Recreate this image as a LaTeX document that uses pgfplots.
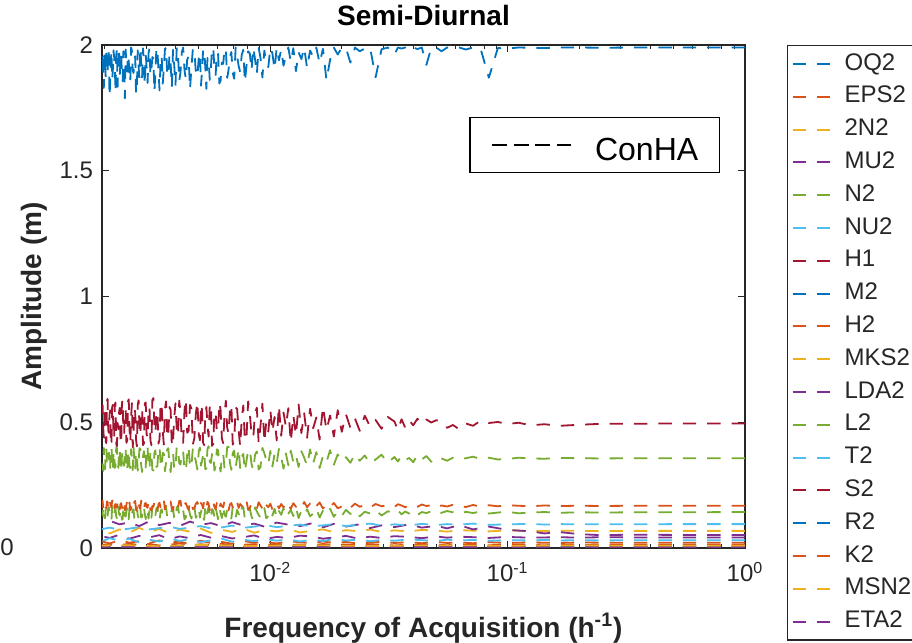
\documentclass[border=0pt]{standalone}
\usepackage{fontspec}
\setmainfont{Liberation Sans}
\usepackage{pgfplots}
\usepackage{pgfplotstable}
\pgfplotsset{compat=1.18}
\definecolor{C1}{rgb}{0,0.447,0.741}
\definecolor{C2}{rgb}{0.85,0.325,0.098}
\definecolor{C3}{rgb}{0.929,0.694,0.125}
\definecolor{C4}{rgb}{0.494,0.184,0.556}
\definecolor{C5}{rgb}{0.466,0.674,0.188}
\definecolor{C6}{rgb}{0.301,0.745,0.933}
\definecolor{C7}{rgb}{0.635,0.078,0.184}
\definecolor{mgray}{rgb}{0.15,0.15,0.15}
\pgfplotsset{mline/.style={line width=0.9pt, dash pattern=on 6.7pt off 5.5pt, line join=round, mark=none}}

\pgfplotstableread{
x M2 S2 N2 K2 L2
1 1.990 0.495 0.357 0.168 0.143
0.5 1.990 0.495 0.357 0.168 0.142
0.33333 1.990 0.494 0.357 0.168 0.142
0.25 1.989 0.494 0.356 0.167 0.141
0.2 1.990 0.490 0.357 0.168 0.142
0.16667 1.990 0.486 0.358 0.167 0.140
0.14286 1.988 0.492 0.355 0.169 0.143
0.125 1.989 0.488 0.356 0.166 0.141
0.11111 1.990 0.498 0.359 0.168 0.138
0.1 1.986 0.493 0.354 0.170 0.144
0.090909 1.988 0.501 0.352 0.166 0.141
0.083333 1.870 0.497 0.359 0.170 0.137
0.076923 1.985 0.506 0.354 0.165 0.145
0.071429 1.990 0.486 0.363 0.171 0.139
0.066667 1.982 0.495 0.357 0.163 0.144
0.0625 1.990 0.472 0.351 0.168 0.136
0.058824 1.987 0.489 0.359 0.172 0.142
0.055556 1.990 0.478 0.347 0.165 0.147
0.052632 1.975 0.503 0.356 0.169 0.140
0.05 1.990 0.508 0.361 0.162 0.135
0.047619 1.988 0.499 0.343 0.170 0.146
0.045455 1.921 0.511 0.366 0.167 0.139
0.043478 1.990 0.493 0.352 0.173 0.143
0.041667 1.984 0.514 0.370 0.164 0.131
0.04 1.990 0.488 0.341 0.168 0.148
0.038462 1.978 0.507 0.358 0.171 0.137
0.037037 1.990 0.478 0.349 0.162 0.145
0.035714 1.986 0.512 0.367 0.169 0.134
0.034483 1.990 0.469 0.344 0.174 0.149
0.033333 1.962 0.503 0.362 0.163 0.138
0.03125 1.990 0.521 0.338 0.170 0.146
0.029412 1.983 0.474 0.371 0.166 0.129
0.027778 1.872 0.509 0.352 0.175 0.151
0.026316 1.990 0.483 0.335 0.161 0.137
0.025 1.986 0.526 0.368 0.171 0.144
0.02381 1.975 0.466 0.347 0.164 0.126
0.022727 1.990 0.515 0.374 0.176 0.149
0.021739 1.930 0.478 0.339 0.160 0.135
0.020833 1.988 0.531 0.361 0.172 0.152
0.02 1.990 0.462 0.344 0.165 0.128
0.019231 1.962 0.548 0.372 0.158 0.147
0.018519 1.990 0.443 0.331 0.179 0.124
0.017857 1.941 0.527 0.389 0.163 0.156
0.017241 1.860 0.468 0.342 0.174 0.133
0.016667 1.985 0.562 0.366 0.157 0.149
0.016129 1.927 0.431 0.318 0.181 0.121
0.015625 1.990 0.519 0.381 0.166 0.158
0.015152 1.953 0.476 0.336 0.155 0.137
0.014706 1.978 0.554 0.392 0.177 0.126
0.014286 1.908 0.438 0.327 0.162 0.154
0.013889 1.990 0.536 0.359 0.183 0.131
0.013514 1.944 0.457 0.385 0.159 0.148
0.013158 1.971 0.571 0.322 0.172 0.119
0.012821 1.896 0.449 0.368 0.164 0.161
0.0125 1.987 0.528 0.341 0.178 0.127
0.012195 1.932 0.421 0.387 0.156 0.152
0.011905 1.990 0.556 0.329 0.169 0.136
0.011628 1.957 0.482 0.376 0.184 0.123
0.011364 1.918 0.539 0.315 0.161 0.158
0.011111 1.982 0.446 0.362 0.175 0.132
0.01087 1.939 0.567 0.394 0.158 0.147
0.010638 1.990 0.428 0.338 0.179 0.120
0.010417 1.903 0.521 0.373 0.165 0.156
0.010204 1.966 0.462 0.324 0.153 0.129
0.01 1.990 0.549 0.386 0.176 0.150
0.0098039 1.912 0.463 0.331 0.162 0.127
0.0096154 1.926 0.502 0.349 0.171 0.118
0.009434 1.978 0.421 0.377 0.184 0.159
0.0092593 1.871 0.574 0.398 0.157 0.153
0.0090909 1.949 0.487 0.322 0.169 0.122
0.0089286 1.988 0.418 0.312 0.182 0.131
0.0087719 1.884 0.558 0.384 0.155 0.146
0.0086207 1.944 0.537 0.371 0.163 0.162
0.0084746 1.990 0.439 0.309 0.178 0.113
0.0083333 1.899 0.452 0.334 0.176 0.124
0.0081967 1.966 0.531 0.392 0.160 0.157
0.0080645 1.975 0.583 0.389 0.152 0.149
0.0079365 1.918 0.442 0.347 0.187 0.128
0.0078125 1.852 0.426 0.305 0.185 0.115
0.0076923 1.981 0.567 0.374 0.158 0.163
0.0075758 1.960 0.511 0.362 0.168 0.158
0.0074627 1.893 0.404 0.318 0.175 0.121
0.0073529 1.917 0.468 0.396 0.159 0.136
0.0072464 1.957 0.552 0.358 0.183 0.152
0.0071429 1.990 0.559 0.321 0.180 0.121
0.0070423 1.866 0.427 0.387 0.154 0.141
0.0069444 1.889 0.411 0.378 0.161 0.164
0.0068493 1.972 0.571 0.311 0.179 0.117
0.0067568 1.953 0.545 0.339 0.173 0.127
0.0066667 1.901 0.456 0.403 0.150 0.155
0.0065789 1.869 0.479 0.401 0.154 0.151
0.0064935 1.988 0.586 0.329 0.181 0.124
0.0064103 1.982 0.528 0.317 0.186 0.133
0.0063291 1.925 0.417 0.376 0.162 0.166
0.00625 1.930 0.435 0.366 0.166 0.119
0.0061728 1.859 0.549 0.304 0.177 0.139
0.0060976 1.847 0.578 0.331 0.158 0.160
0.0060241 1.963 0.473 0.389 0.187 0.114
0.0059524 1.971 0.463 0.392 0.181 0.138
0.0058824 1.881 0.537 0.326 0.153 0.161
0.005814 1.905 0.541 0.308 0.163 0.125
0.0057471 1.990 0.414 0.381 0.185 0.148
0.0056818 1.990 0.406 0.374 0.175 0.155
0.005618 1.908 0.574 0.338 0.159 0.118
0.0055556 1.861 0.566 0.343 0.150 0.116
0.0054945 1.951 0.443 0.405 0.176 0.163
0.0054348 1.948 0.487 0.395 0.184 0.147
0.0053763 1.826 0.561 0.315 0.161 0.129
0.0053191 1.913 0.524 0.314 0.166 0.162
0.0052632 1.984 0.409 0.383 0.188 0.112
0.0052083 1.979 0.419 0.369 0.157 0.122
0.0051546 1.897 0.548 0.347 0.172 0.157
0.005102 1.838 0.573 0.327 0.179 0.143
0.0050505 1.969 0.428 0.399 0.153 0.121
0.005 1.957 0.449 0.388 0.162 0.157
0.0049261 1.874 0.581 0.312 0.183 0.132
0.0048544 1.892 0.532 0.346 0.176 0.120
0.0047847 1.977 0.437 0.367 0.158 0.166
0.004717 1.986 0.412 0.399 0.155 0.156
0.0046512 1.911 0.554 0.329 0.186 0.117
0.0045872 1.824 0.569 0.318 0.183 0.133
0.0045249 1.954 0.466 0.404 0.152 0.159
0.0044643 1.943 0.458 0.372 0.163 0.165
0.0044053 1.865 0.592 0.306 0.179 0.122
0.0043478 1.900 0.547 0.309 0.172 0.114
0.0042918 1.990 0.418 0.386 0.156 0.151
0.0042373 1.971 0.421 0.384 0.149 0.148
0.0041841 1.893 0.539 0.332 0.188 0.127
0.0041322 1.856 0.586 0.336 0.187 0.129
0.0040816 1.967 0.446 0.398 0.159 0.168
0.0040323 1.990 0.474 0.403 0.160 0.161
0.0039841 1.838 0.575 0.314 0.177 0.113
0.003937 1.919 0.519 0.313 0.178 0.118
0.0038911 1.981 0.427 0.379 0.151 0.157
0.0038462 1.832 0.403 0.367 0.156 0.152
0.0038023 1.927 0.548 0.302 0.185 0.134
0.0037594 1.962 0.561 0.328 0.184 0.137
0.0037175 1.876 0.453 0.397 0.162 0.119
0.0036765 1.887 0.438 0.392 0.165 0.123
0.0036364 1.990 0.583 0.341 0.174 0.164
0.0035971 1.984 0.552 0.305 0.153 0.167
0.0035587 1.908 0.411 0.374 0.190 0.126
0.0035211 1.846 0.466 0.379 0.189 0.131
0.0034843 1.958 0.567 0.318 0.157 0.154
0.0034483 1.935 0.578 0.341 0.161 0.145
0.003413 1.819 0.432 0.402 0.180 0.111
0.0033784 1.901 0.415 0.396 0.174 0.112
0.0033445 1.973 0.544 0.326 0.151 0.162
0.0033113 1.990 0.527 0.322 0.158 0.158
0.0032787 1.885 0.458 0.389 0.186 0.129
0.0032468 1.815 0.492 0.376 0.182 0.126
0.0032154 1.946 0.596 0.308 0.164 0.168
0.0031847 1.952 0.589 0.311 0.167 0.163
0.0031546 1.904 0.409 0.371 0.149 0.120
0.003125 1.878 0.427 0.388 0.151 0.139
0.003096 1.987 0.562 0.313 0.189 0.156
0.0030675 1.968 0.541 0.334 0.186 0.117
0.0030395 1.849 0.437 0.398 0.160 0.147
0.003012 1.909 0.452 0.406 0.163 0.154
0.0029851 1.962 0.579 0.321 0.179 0.115
0.0029586 1.841 0.574 0.317 0.176 0.134
0.0029326 1.929 0.416 0.385 0.154 0.165
0.002907 1.987 0.409 0.363 0.155 0.166
0.0028818 1.871 0.553 0.302 0.184 0.124
0.0028571 1.926 0.535 0.329 0.188 0.121
0.0028329 1.990 0.448 0.394 0.157 0.159
0.002809 1.869 0.483 0.397 0.160 0.149
0.0027855 1.915 0.587 0.335 0.182 0.118
0.0027624 1.979 0.568 0.307 0.179 0.130
0.0027397 1.833 0.404 0.371 0.148 0.163
0.0027174 1.805 0.431 0.382 0.152 0.160
0.0026954 1.955 0.539 0.312 0.187 0.127
0.0026738 1.944 0.556 0.345 0.184 0.115
0.0026525 1.889 0.461 0.401 0.163 0.153
0.0026316 1.897 0.401 0.309 0.166 0.152
0.002611 1.976 0.576 0.356 0.178 0.131
0.0025907 1.990 0.523 0.393 0.157 0.138
0.0025707 1.862 0.419 0.318 0.150 0.166
0.002551 1.853 0.471 0.325 0.181 0.163
0.0025316 1.938 0.591 0.389 0.171 0.114
0.0025126 1.961 0.582 0.374 0.164 0.119
0.0024938 1.894 0.428 0.306 0.189 0.158
0.0024752 1.913 0.418 0.313 0.172 0.147
0.002457 1.982 0.544 0.392 0.155 0.125
0.002439 1.788 0.549 0.399 0.150 0.128
0.0024213 1.921 0.453 0.327 0.181 0.167
0.0024038 1.975 0.462 0.338 0.187 0.158
0.0023866 1.856 0.588 0.381 0.158 0.116
0.0023697 1.882 0.576 0.368 0.161 0.112
0.0023529 1.968 0.412 0.310 0.178 0.152
0.0023364 1.938 0.433 0.304 0.176 0.155
0.0023202 1.877 0.557 0.394 0.153 0.129
0.0023041 1.990 0.538 0.385 0.158 0.136
0.0022883 1.943 0.472 0.319 0.186 0.161
0.0022727 1.834 0.497 0.331 0.183 0.167
0.0022573 1.985 0.405 0.397 0.160 0.119
0.0022422 1.958 0.414 0.401 0.163 0.124
0.0022272 1.812 0.578 0.326 0.175 0.154
0.0022124 1.907 0.571 0.318 0.171 0.150
0.0021978 1.952 0.436 0.385 0.149 0.134
0.0021834 1.979 0.445 0.377 0.154 0.131
0.0021692 1.899 0.569 0.308 0.186 0.166
0.0021552 1.861 0.559 0.342 0.189 0.162
0.0021413 1.977 0.421 0.403 0.162 0.113
0.0021277 1.931 0.407 0.396 0.166 0.117
0.0021142 1.848 0.548 0.318 0.180 0.149
0.0021008 1.795 0.531 0.311 0.177 0.145
0.0020877 1.961 0.458 0.379 0.151 0.162
0.0020747 1.984 0.468 0.372 0.152 0.159
0.0020619 1.886 0.593 0.334 0.183 0.122
0.0020492 1.918 0.584 0.327 0.185 0.127
0.0020367 1.990 0.417 0.395 0.158 0.158
0.0020243 1.872 0.424 0.389 0.162 0.153
0.0020121 1.934 0.561 0.313 0.179 0.118
0.002 1.966 0.546 0.336 0.174 0.121
0.0019881 1.829 0.439 0.398 0.156 0.161
0.0019763 1.893 0.479 0.306 0.159 0.164
0.0019646 1.972 0.568 0.352 0.188 0.129
0.0019531 1.949 0.562 0.381 0.181 0.136
}\tmain

\pgfplotstableread{
x NU2 TN2 MU2 LDA2 T2 EPS2 H2
1 0.095 0.068 0.052 0.042 0.031 0.021 0.012
0.5 0.095 0.068 0.052 0.042 0.031 0.021 0.012
0.33333 0.094 0.068 0.053 0.042 0.031 0.021 0.012
0.25 0.095 0.067 0.051 0.043 0.030 0.021 0.012
0.2 0.094 0.068 0.055 0.041 0.031 0.022 0.012
0.16667 0.095 0.069 0.063 0.043 0.030 0.020 0.013
0.14286 0.093 0.067 0.058 0.042 0.032 0.021 0.011
0.125 0.096 0.068 0.066 0.041 0.030 0.022 0.012
0.1 0.094 0.070 0.072 0.044 0.031 0.020 0.013
0.083333 0.092 0.066 0.085 0.040 0.029 0.023 0.011
0.071429 0.097 0.069 0.074 0.043 0.032 0.019 0.012
0.0625 0.093 0.071 0.091 0.045 0.030 0.022 0.014
0.055556 0.095 0.065 0.078 0.041 0.033 0.020 0.011
0.05 0.091 0.069 0.088 0.046 0.028 0.024 0.013
0.043478 0.096 0.072 0.081 0.039 0.031 0.019 0.012
0.038462 0.090 0.066 0.094 0.044 0.034 0.023 0.014
0.033333 0.094 0.070 0.083 0.047 0.029 0.020 0.010
0.029412 0.089 0.064 0.090 0.040 0.032 0.025 0.013
0.026316 0.097 0.073 0.079 0.045 0.027 0.021 0.015
0.023256 0.092 0.067 0.093 0.038 0.033 0.018 0.011
0.020833 0.087 0.071 0.085 0.048 0.030 0.024 0.014
0.018519 0.095 0.063 0.096 0.042 0.035 0.020 0.012
0.016667 0.090 0.074 0.082 0.037 0.028 0.026 0.016
0.014925 0.086 0.068 0.098 0.046 0.032 0.019 0.010
0.013333 0.093 0.062 0.087 0.049 0.026 0.023 0.014
0.011905 0.088 0.075 0.093 0.040 0.034 0.027 0.012
0.010638 0.083 0.066 0.101 0.044 0.029 0.018 0.016
0.0095238 0.091 0.071 0.084 0.036 0.036 0.025 0.011
0.008547 0.085 0.061 0.097 0.050 0.027 0.021 0.015
0.0076923 0.080 0.077 0.089 0.043 0.033 0.028 0.013
0.0068966 0.089 0.064 0.103 0.038 0.025 0.017 0.010
0.00625 0.082 0.072 0.086 0.047 0.037 0.024 0.017
0.005618 0.078 0.060 0.099 0.041 0.030 0.020 0.012
0.0050761 0.087 0.078 0.092 0.052 0.024 0.029 0.015
0.0045872 0.081 0.065 0.105 0.039 0.035 0.016 0.011
0.0041494 0.076 0.073 0.088 0.046 0.028 0.025 0.018
0.0037594 0.085 0.059 0.100 0.035 0.038 0.022 0.013
0.0034014 0.079 0.076 0.091 0.051 0.026 0.030 0.010
0.0030864 0.074 0.063 0.106 0.042 0.033 0.019 0.016
0.0028011 0.083 0.080 0.087 0.048 0.023 0.027 0.012
0.0025445 0.077 0.061 0.102 0.037 0.036 0.021 0.017
0.0023148 0.072 0.074 0.094 0.053 0.029 0.031 0.011
0.0021053 0.081 0.058 0.108 0.040 0.039 0.018 0.014
0.0019531 0.075 0.070 0.090 0.046 0.027 0.026 0.013
}\tsmall

\pgfplotstableread{
x MSN2 OQ2 MKS2 H1 R2 ETA2
1 0.009 0.007 0.005 0.004 0.003 0.002
0.33333 0.009 0.007 0.005 0.004 0.003 0.002
0.16667 0.010 0.006 0.005 0.004 0.003 0.002
0.1 0.008 0.007 0.006 0.003 0.003 0.002
0.05 0.010 0.008 0.004 0.005 0.002 0.003
0.025 0.007 0.006 0.006 0.003 0.004 0.001
0.014286 0.011 0.008 0.004 0.005 0.002 0.003
0.0083333 0.008 0.005 0.007 0.003 0.004 0.001
0.005 0.012 0.009 0.004 0.006 0.002 0.003
0.0033333 0.007 0.006 0.007 0.003 0.005 0.001
0.002381 0.011 0.008 0.005 0.006 0.002 0.003
0.0019531 0.009 0.006 0.006 0.004 0.003 0.002
}\ttiny

\begin{document}
\begin{tikzpicture}
\begin{axis}[
  name=main, at={(0pt,0pt)}, anchor=south west,
  scale only axis, width=321.5pt, height=251.5pt,
  xmode=log, xmin=0.0019531, xmax=1, ymin=0, ymax=2,
  xtick={0.01,0.1,1},
  xticklabels={10\textsuperscript{-2},10\textsuperscript{-1},10\textsuperscript{0}},
  minor xtick={0.002,0.003,0.004,0.005,0.006,0.007,0.008,0.009,0.02,0.03,0.04,0.05,0.06,0.07,0.08,0.09,0.2,0.3,0.4,0.5,0.6,0.7,0.8,0.9},
  ytick={0,0.5,1,1.5,2}, yticklabels={0,0.5,1,1.5,2},
  tick align=inside, major tick length=3.5pt, minor tick length=2pt,
  tick style={mgray, line width=0.5pt},
  axis line style={draw=mgray, line width=0.6pt},
  xticklabel style={font=\fontsize{12}{14}\selectfont, text=mgray, anchor=base, yshift=-17pt},
  yticklabel style={font=\fontsize{12}{14}\selectfont, text=mgray, xshift=-1pt},
  title={Semi-Diurnal},
  title style={font=\bfseries\fontsize{14}{17}\selectfont, at={(axis description cs:0.5,1.0147)}, anchor=base},
  xlabel={Frequency of Acquisition (h\textsuperscript{-1})},
  xlabel style={font=\bfseries\fontsize{14}{17}\selectfont, text=mgray, at={(axis description cs:0.5,-0.177)}, anchor=base},
  ylabel={Amplitude (m)},
  ylabel style={font=\bfseries\fontsize{14}{17}\selectfont, text=mgray, at={(axis description cs:-0.0933,0.5)}, anchor=base},
  legend cell align=left,
  legend style={at={(1,1)}, anchor=north west, xshift=21pt, draw=mgray, line width=0.6pt,
    font=\fontsize{12}{14}\selectfont, text=mgray, inner xsep=2pt, inner ysep=1pt,
    nodes={text height=9pt, text depth=3pt, inner ysep=2.2pt, inner xsep=2pt},
    /tikz/every odd column/.append style={column sep=4.5pt}},
  legend image code/.code={\draw[#1, line width=1pt] (0pt,0pt) -- (19pt,0pt);},
]
\addplot[C1,mline] table[x=x,y=OQ2]{\ttiny}; \addlegendentry{OQ2}
\addplot[C2,mline] table[x=x,y=EPS2]{\tsmall}; \addlegendentry{EPS2}
\addplot[C3,mline] table[x=x,y=TN2]{\tsmall}; \addlegendentry{2N2}
\addplot[C4,mline] table[x=x,y=MU2]{\tsmall}; \addlegendentry{MU2}
\addplot[C5,mline] table[x=x,y=N2]{\tmain}; \addlegendentry{N2}
\addplot[C6,mline] table[x=x,y=NU2]{\tsmall}; \addlegendentry{NU2}
\addplot[C7,mline] table[x=x,y=H1]{\ttiny}; \addlegendentry{H1}
\addplot[C1,mline] table[x=x,y=M2]{\tmain}; \addlegendentry{M2}
\addplot[C2,mline] table[x=x,y=H2]{\tsmall}; \addlegendentry{H2}
\addplot[C3,mline] table[x=x,y=MKS2]{\ttiny}; \addlegendentry{MKS2}
\addplot[C4,mline] table[x=x,y=LDA2]{\tsmall}; \addlegendentry{LDA2}
\addplot[C5,mline] table[x=x,y=L2]{\tmain}; \addlegendentry{L2}
\addplot[C6,mline] table[x=x,y=T2]{\tsmall}; \addlegendentry{T2}
\addplot[C7,mline] table[x=x,y=S2]{\tmain}; \addlegendentry{S2}
\addplot[C1,mline] table[x=x,y=R2]{\ttiny}; \addlegendentry{R2}
\addplot[C2,mline] table[x=x,y=K2]{\tmain}; \addlegendentry{K2}
\addplot[C3,mline] table[x=x,y=MSN2]{\ttiny}; \addlegendentry{MSN2}
\addplot[C4,mline] table[x=x,y=ETA2]{\ttiny}; \addlegendentry{ETA2}
\end{axis}
\begin{axis}[
  at={(0pt,0pt)}, anchor=south west,
  scale only axis, width=321.5pt, height=251.5pt,
  hide axis, xmin=0, xmax=1, ymin=0, ymax=1,
  legend style={at={(0.961,0.857)}, anchor=north east, draw=black, line width=0.7pt,
    font=\fontsize{16}{19}\selectfont, inner xsep=10.5pt, inner ysep=6pt,
    nodes={inner sep=0pt, text height=15.5pt, text depth=0pt},
    /tikz/every odd column/.append style={column sep=11.5pt}},
  legend image code/.code={\draw[#1] (0pt,0pt) -- (39.5pt,0pt);},
]
\addlegendimage{black, line width=1pt, dash pattern=on 7.5pt off 3.3pt}
\addlegendentry{ConHA}
\end{axis}
\node[font=\fontsize{12}{14}\selectfont, text=mgray, anchor=base] at ([xshift=-47.5pt,yshift=-4pt]main.south west) {0};
\pgfresetboundingbox
\path[use as bounding box] (-51pt,-47.5pt) rectangle (405pt,274pt);
\end{tikzpicture}
\end{document}
